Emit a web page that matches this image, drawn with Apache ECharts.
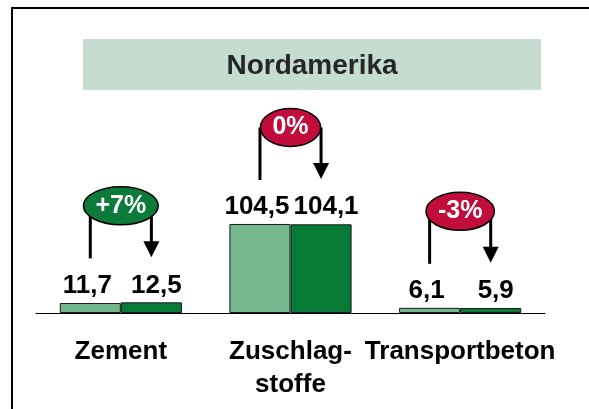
<!DOCTYPE html>
<html>
<head>
<meta charset="utf-8">
<script src="https://cdn.jsdelivr.net/npm/echarts@6/dist/echarts.min.js"></script>
<style>
  html, body { margin: 0; padding: 0; background: #fff; }
  #chart { width: 589px; height: 409px; }
</style>
</head>
<body>
<div id="chart"></div>
<script>
// Daten
var categories = ['Zement', 'Zuschlag-\nstoffe', 'Transportbeton'];
var prevValues = [11.7, 104.5, 6.1];
var currValues = [12.5, 104.1, 5.9];
var changeLabels = ['+7%', '0%', '-3%'];

var FONT = '"Liberation Sans", Arial, sans-serif';
var GREEN = '#0b7a3a';
var RED = '#c20d3c';

// Textbreite messen (für die Ellipsen)
var ctx = document.createElement('canvas').getContext('2d');
ctx.font = 'bold 25px ' + FONT;

var chart = echarts.init(document.getElementById('chart'));

function fmt(p) {
  return p.value.toFixed(1).replace('.', ',');
}

var option = {
  animation: false,
  grid: { left: 36, right: 44, top: 185.2, bottom: 96 },
  xAxis: {
    type: 'category',
    data: categories,
    axisTick: { show: false },
    axisLine: { lineStyle: { color: '#000', width: 1 } },
    axisLabel: {
      interval: 0,
      margin: 22,
      color: '#000',
      fontFamily: FONT,
      fontWeight: 'bold',
      fontSize: 26,
      lineHeight: 33
    }
  },
  yAxis: { type: 'value', min: 0, max: 150, show: false },
  series: [
    {
      type: 'bar',
      data: prevValues,
      barGap: '0%',
      barCategoryGap: '28%',
      itemStyle: { color: '#74b78d', borderColor: '#1a1a1a', borderWidth: 1 },
      label: {
        show: true, position: 'top', distance: 4, offset: [-3, 0], formatter: fmt,
        color: '#000', fontFamily: FONT, fontWeight: 'bold', fontSize: 26
      }
    },
    {
      type: 'bar',
      data: currValues,
      itemStyle: { color: '#077a35', borderColor: '#1a1a1a', borderWidth: 1 },
      label: {
        show: true, position: 'top', distance: 4, offset: [5, 0], formatter: fmt,
        color: '#000', fontFamily: FONT, fontWeight: 'bold', fontSize: 26
      }
    },
    {
      // Veränderungs-Ellipsen mit Pfeilen
      type: 'custom',
      clip: false,
      silent: true,
      z: 10,
      encode: { x: 0, y: 1 },
      data: categories.map(function (c, i) {
        return [i, Math.max(prevValues[i], currValues[i]), currValues[i] < prevValues[i] ? 1 : 0];
      }),
      renderItem: function (params, api) {
        var idx = api.value(0);
        var top = api.coord([idx, api.value(1)]);
        var band = api.size([1, 0])[0];
        var bw = band * 0.72 / 2;
        var xl = top[0] - bw / 2;
        var xr = top[0] + bw / 2;
        var tipY = top[1] - 45;
        var cy = tipY - 51.5;
        var txt = changeLabels[idx];
        var rx = ctx.measureText(txt).width / 2 + 12;
        var color = api.value(2) ? RED : GREEN;
        return {
          type: 'group',
          children: [
            { type: 'line', shape: { x1: xl, y1: cy, x2: xl, y2: tipY + 1 }, style: { stroke: '#000', lineWidth: 3 } },
            { type: 'line', shape: { x1: xr, y1: cy, x2: xr, y2: tipY - 14 }, style: { stroke: '#000', lineWidth: 3 } },
            { type: 'polygon', shape: { points: [[xr - 8, tipY - 16], [xr + 8, tipY - 16], [xr, tipY]] }, style: { fill: '#000' } },
            { type: 'ellipse', shape: { cx: top[0], cy: cy, rx: rx, ry: 19 }, style: { fill: color, stroke: '#000', lineWidth: 1.5 } },
            { type: 'text', style: { text: txt, x: top[0], y: cy, align: 'center', verticalAlign: 'middle', fill: '#fff', font: 'bold 25px ' + FONT } }
          ]
        };
      }
    }
  ],
  graphic: [
    { type: 'rect', shape: { x: 12, y: 8, width: 620, height: 440 }, style: { fill: 'none', stroke: '#000', lineWidth: 2 } },
    { type: 'rect', shape: { x: 83, y: 39, width: 458, height: 51 }, style: { fill: '#c4ddd0' } },
    {
      type: 'text', x: 312, y: 66,
      style: { text: 'Nordamerika', align: 'center', verticalAlign: 'middle', fill: '#262626', font: 'bold 28px ' + FONT }
    }
  ]
};

chart.setOption(option);
</script>
</body>
</html>
